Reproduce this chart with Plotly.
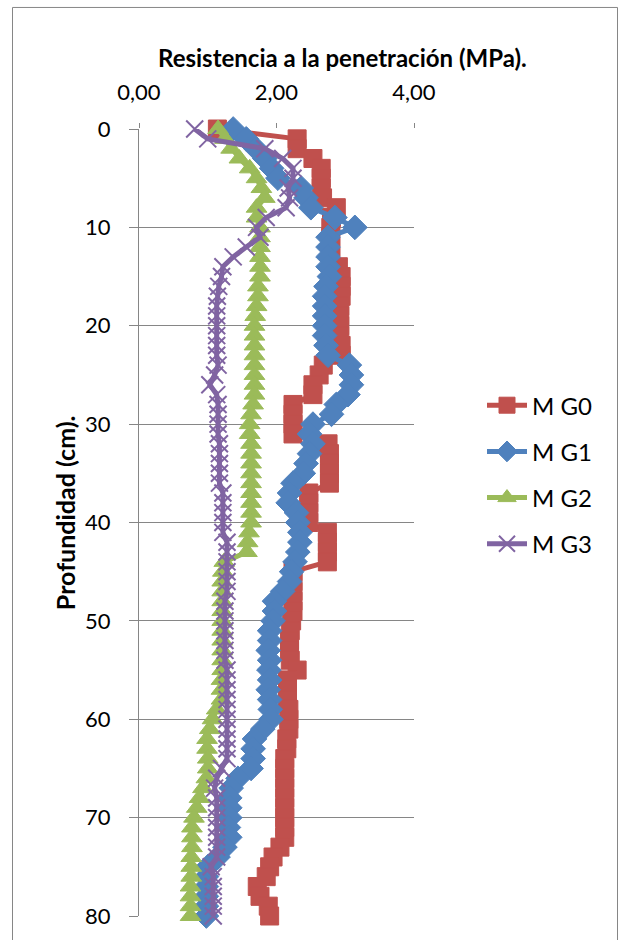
import plotly.graph_objects as go

depth = list(range(0, 81))

mg0 = [1.14, 2.30, 2.30, 2.53, 2.65, 2.65, 2.65, 2.67, 2.87, 2.80,
       2.79, 2.79, 2.79, 2.79, 2.90, 2.94, 2.94, 2.94, 2.92, 2.92,
       2.92, 2.92, 2.94, 2.94, 2.68, 2.62, 2.53, 2.53, 2.24, 2.24,
       2.24, 2.24, 2.75, 2.77, 2.77, 2.77, 2.77, 2.47, 2.47, 2.47,
       2.47, 2.74, 2.74, 2.74, 2.74, 2.24, 2.24, 2.24, 2.24, 2.24,
       2.22, 2.20, 2.19, 2.19, 2.20, 2.30, 2.16, 2.16, 2.16, 2.18,
       2.18, 2.18, 2.15, 2.15, 2.12, 2.12, 2.12, 2.12, 2.12, 2.12,
       2.12, 2.12, 2.12, 2.05, 1.95, 1.90, 1.85, 1.72, 1.76, 1.88,
       1.90]

mg1 = [1.37, 1.56, 1.70, 1.83, 1.93, 2.02, 2.36, 2.43, 2.50, 2.85,
       3.14, 2.75, 2.75, 2.75, 2.75, 2.77, 2.72, 2.70, 2.70, 2.70,
       2.70, 2.70, 2.72, 2.75, 3.06, 3.09, 3.09, 3.04, 2.87, 2.80,
       2.53, 2.48, 2.53, 2.48, 2.43, 2.39, 2.24, 2.19, 2.17, 2.29,
       2.31, 2.34, 2.34, 2.31, 2.27, 2.22, 2.19, 2.09, 1.97, 1.97,
       1.95, 1.90, 1.90, 1.88, 1.90, 1.89, 1.90, 1.88, 1.90, 1.91,
       1.92, 1.80, 1.68, 1.66, 1.66, 1.63, 1.44, 1.34, 1.32, 1.32,
       1.32, 1.30, 1.32, 1.25, 1.15, 1.00, 0.98, 0.98, 0.98, 0.98,
       0.98]

mg2 = [1.15, 1.25, 1.34, 1.46, 1.61, 1.71, 1.78, 1.83, 1.71, 1.71,
       1.76, 1.76, 1.76, 1.76, 1.76, 1.76, 1.73, 1.73, 1.71, 1.69,
       1.68, 1.68, 1.68, 1.68, 1.68, 1.68, 1.68, 1.68, 1.66, 1.63,
       1.61, 1.61, 1.63, 1.63, 1.63, 1.63, 1.63, 1.63, 1.63, 1.63,
       1.63, 1.60, 1.58, 1.57, 1.24, 1.22, 1.21, 1.21, 1.21, 1.21,
       1.21, 1.21, 1.21, 1.21, 1.21, 1.21, 1.20, 1.20, 1.20, 1.13,
       1.07, 1.03, 0.99, 0.99, 1.00, 1.00, 0.98, 0.93, 0.88, 0.84,
       0.80, 0.77, 0.77, 0.77, 0.76, 0.76, 0.76, 0.75, 0.75, 0.75,
       0.75]

mg3 = [0.81, 1.00, 1.83, 2.09, 2.24, 2.24, 2.17, 2.19, 2.14, 1.85,
       1.71, 1.76, 1.56, 1.37, 1.22, 1.20, 1.16, 1.14, 1.13, 1.13,
       1.13, 1.13, 1.13, 1.13, 1.15, 1.10, 1.03, 1.13, 1.15, 1.15,
       1.15, 1.15, 1.17, 1.17, 1.17, 1.17, 1.17, 1.22, 1.22, 1.22,
       1.22, 1.22, 1.28, 1.28, 1.28, 1.28, 1.28, 1.28, 1.25, 1.25,
       1.25, 1.25, 1.25, 1.25, 1.25, 1.28, 1.28, 1.28, 1.28, 1.28,
       1.28, 1.28, 1.28, 1.28, 1.28, 1.20, 1.13, 1.10, 1.13, 1.13,
       1.13, 1.13, 1.13, 1.13, 1.13, 1.05, 1.08, 1.08, 1.08, 1.08,
       1.08]

names = ["M G0", "M G1", "M G2", "M G3"]
colors = ["#C0504D", "#4F81BD", "#9BBB59", "#8064A2"]
symbols = ["square", "diamond", "triangle-up", "x-thin"]
sizes = [18, 19, 18, 17]
series = [mg0, mg1, mg2, mg3]

FONT = "Lato, Open Sans, sans-serif"
GRID = "#868686"

fig = go.Figure()
for nm, col, sym, sz, vals in zip(names, colors, symbols, sizes, series):
    if sym == "x-thin":
        marker = dict(symbol=sym, size=sz, color=col, line=dict(width=2, color=col))
    else:
        marker = dict(symbol=sym, size=sz, color=col, line=dict(width=1, color=col))
    fig.add_trace(go.Scatter(
        x=vals, y=depth, name=nm, mode="lines+markers",
        line=dict(color=col, width=5),
        marker=marker, cliponaxis=False, legendgroup=nm,
    ))

fig.update_layout(
    width=623, height=940,
    margin=dict(l=139, r=209, t=129, b=24),
    paper_bgcolor="white", plot_bgcolor="white",
    separators=",.",
    font=dict(family=FONT, size=22, color="black"),
    showlegend=True,
    legend=dict(x=(482 - 139) / 275, xanchor="left", y=(915.7 - 383) / 786.7, yanchor="top",
                font=dict(size=24), tracegroupgap=12, itemwidth=40,
                bgcolor="rgba(0,0,0,0)"),
    xaxis=dict(range=[0, 4], side="top", tickvals=[0, 2, 4], tickformat=".2f",
               ticks="outside", ticklen=5, tickcolor=GRID, showgrid=False,
               showline=False, zeroline=False, ticklabelstandoff=14,
               tickfont=dict(size=22)),
    yaxis=dict(range=[80, 0], tickvals=list(range(0, 81, 10)), ticks="outside",
               ticklen=9, tickcolor=GRID, showgrid=True, gridcolor=GRID, gridwidth=1,
               showline=True, linecolor=GRID, linewidth=1, zeroline=False,
               ticklabelstandoff=14, tickfont=dict(size=22)),
    annotations=[
        dict(text="<b>Resistencia a la penetración (MPa).</b>", xref="paper", yref="paper",
             x=(342 - 139) / 275, y=(915.7 - 58) / 786.7, xanchor="center", yanchor="middle",
             showarrow=False, font=dict(size=24)),
        dict(text="<b>Profundidad (cm).</b>", xref="paper", yref="paper",
             x=(65 - 139) / 275, y=(915.7 - 513) / 786.7, xanchor="center", yanchor="middle",
             textangle=-90, showarrow=False, font=dict(size=25)),
    ],
    shapes=[
        dict(type="rect", xref="paper", yref="paper",
             x0=(12.5 - 139) / 275, x1=(617.5 - 139) / 275,
             y0=(915.7 - 960) / 786.7, y1=(915.7 - 7.5) / 786.7,
             line=dict(color=GRID, width=1), fillcolor="rgba(0,0,0,0)", layer="below"),
    ],
)

fig.write_html("out.html")
